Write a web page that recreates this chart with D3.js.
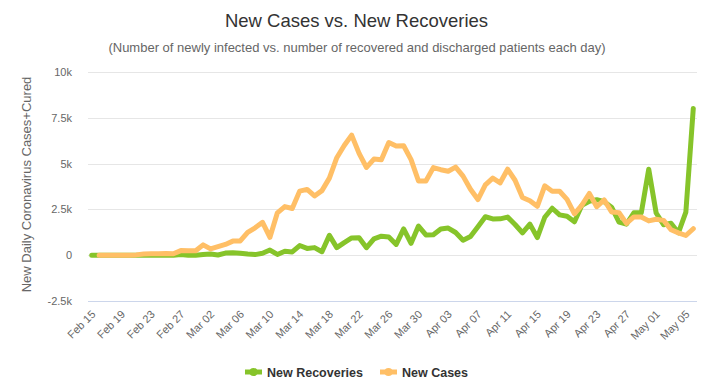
<!DOCTYPE html>
<html>
<head>
<meta charset="utf-8">
<script src="https://cdn.jsdelivr.net/npm/d3@7/dist/d3.min.js"></script>
<style>
  html, body { margin: 0; padding: 0; background: #fff; }
  svg { display: block; }
</style>
</head>
<body>
<svg id="chart" width="713" height="387"></svg>
<script>
// ---- data ----
const dates = [
  "Feb 15","Feb 16","Feb 17","Feb 18","Feb 19","Feb 20","Feb 21","Feb 22","Feb 23","Feb 24",
  "Feb 25","Feb 26","Feb 27","Feb 28","Feb 29","Mar 01","Mar 02","Mar 03","Mar 04","Mar 05",
  "Mar 06","Mar 07","Mar 08","Mar 09","Mar 10","Mar 11","Mar 12","Mar 13","Mar 14","Mar 15",
  "Mar 16","Mar 17","Mar 18","Mar 19","Mar 20","Mar 21","Mar 22","Mar 23","Mar 24","Mar 25",
  "Mar 26","Mar 27","Mar 28","Mar 29","Mar 30","Mar 31","Apr 01","Apr 02","Apr 03","Apr 04",
  "Apr 05","Apr 06","Apr 07","Apr 08","Apr 09","Apr 10","Apr 11","Apr 12","Apr 13","Apr 14",
  "Apr 15","Apr 16","Apr 17","Apr 18","Apr 19","Apr 20","Apr 21","Apr 22","Apr 23","Apr 24",
  "Apr 25","Apr 26","Apr 27","Apr 28","Apr 29","Apr 30","May 01","May 02","May 03","May 04",
  "May 05","May 06"
];
const tickLabels = ["Feb 15","Feb 19","Feb 23","Feb 27","Mar 02","Mar 06","Mar 10","Mar 14",
  "Mar 18","Mar 22","Mar 26","Mar 30","Apr 03","Apr 07","Apr 11","Apr 15","Apr 19","Apr 23",
  "Apr 27","May 01","May 05"];
const newRecoveries = [
  0,0,0,0,0,0,0,0,0,1,
  0,2,42,1,0,37,66,11,116,138,
  109,66,33,102,280,41,213,181,527,369,
  414,192,1084,415,689,943,952,408,894,1036,
  999,589,1434,646,1590,1109,1118,1431,1480,1238,
  819,1022,1555,2099,1979,1985,2079,1677,1224,1695,
  962,2072,2563,2200,2128,1822,2723,2943,3033,2922,
  2622,1808,1696,2317,2311,4693,2304,1665,1740,1225,
  2352,8014
];
const newCases = [
  null,0,0,0,0,0,17,62,73,77,
  93,78,250,238,240,566,342,466,587,769,
  778,1247,1492,1797,977,2313,2651,2547,3497,3590,
  3233,3526,4207,5322,5986,6557,5560,4789,5249,5210,
  6153,5959,5974,5217,4050,4053,4782,4668,4585,4805,
  4316,3599,3039,3836,4204,3951,4694,4092,3153,2972,
  2667,3786,3493,3491,3047,2256,2729,3370,2646,3021,
  2357,2324,1739,2091,2086,1872,1965,1900,1389,1221,
  1075,1444
];
const yTicks = [-2500, 0, 2500, 5000, 7500, 10000];
const yTickLabels = ["-2.5k", "0", "2.5k", "5k", "7.5k", "10k"];
const seriesNames = ["New Recoveries", "New Cases"];
const seriesColors = ["#86c42a", "#ffbf66"];

// ---- layout ----
const svg = d3.select("#chart");
const L = 88, R = 697, T = 72, B = 301;
const font = "'Liberation Sans', Arial, sans-serif";

const x = d3.scalePoint().domain(dates).range([L, R]).padding(0.5);
const y = d3.scaleLinear().domain([-2500, 10000]).range([B, T]);

// gridlines
svg.append("g").selectAll("line").data(yTicks).join("line")
  .attr("x1", L).attr("x2", R)
  .attr("y1", d => Math.round(y(d)) + 0.5).attr("y2", d => Math.round(y(d)) + 0.5)
  .attr("stroke", d => d === -2500 ? "#ccd6eb" : "#e6e6e6").attr("stroke-width", 1);

// y axis labels
const yAxis = d3.axisLeft(y).tickValues(yTicks).tickSize(0).tickPadding(0)
  .tickFormat((d, i) => yTickLabels[i]);
const gy = svg.append("g").attr("transform", `translate(72,0)`).call(yAxis);
gy.select(".domain").remove();
gy.selectAll("text").attr("fill", "#666").style("font-family", font).style("font-size", "11px")
  .attr("dy", "0.32em");

// x axis labels
const xAxis = d3.axisBottom(x).tickValues(tickLabels).tickSize(0).tickPadding(0);
const gx = svg.append("g").attr("transform", `translate(0,${B})`).call(xAxis);
gx.select(".domain").remove();
gx.selectAll(".tick text")
  .attr("fill", "#666").style("font-family", font).style("font-size", "11px")
  .attr("text-anchor", "end").attr("dy", null).attr("y", 0)
  .attr("transform", "translate(4,14) rotate(-45)");

// lines
const line = d3.line()
  .defined(d => d[1] !== null)
  .x(d => x(d[0])).y(d => y(d[1]));
const series = [newRecoveries, newCases];
series.forEach((vals, si) => {
  svg.append("path")
    .datum(dates.map((dt, i) => [dt, vals[i]]))
    .attr("fill", "none").attr("stroke", seriesColors[si]).attr("stroke-width", 5)
    .attr("stroke-linejoin", "round").attr("stroke-linecap", "round")
    .attr("d", line);
});

// title
svg.append("text").attr("x", 356.5).attr("y", 27).attr("text-anchor", "middle")
  .attr("fill", "#333").style("font-family", font).style("font-size", "18.5px")
  .text("New Cases vs. New Recoveries");
svg.append("text").attr("x", 357).attr("y", 52).attr("text-anchor", "middle")
  .attr("fill", "#666").style("font-family", font).style("font-size", "13px")
  .text("(Number of newly infected vs. number of recovered and discharged patients each day)");

// y axis title
svg.append("text").attr("transform", `translate(31,${(T + B) / 2 - 2}) rotate(-90)`)
  .attr("text-anchor", "middle").attr("fill", "#666")
  .style("font-family", font).style("font-size", "13px")
  .text("New Daily Coronavirus Cases+Cured");

// legend
const legendX = [245, 380];
seriesNames.forEach((name, i) => {
  const g = svg.append("g").attr("transform", `translate(${legendX[i]},372)`);
  g.append("line").attr("x1", 0).attr("x2", 17).attr("y1", 0).attr("y2", 0)
    .attr("stroke", seriesColors[i]).attr("stroke-width", 5);
  g.append("circle").attr("cx", 8.5).attr("cy", 0).attr("r", 4).attr("fill", seriesColors[i]);
  g.append("text").attr("x", 22).attr("y", 4.5).attr("fill", "#333")
    .style("font-family", font).style("font-size", "12.5px").style("font-weight", "bold")
    .text(name);
});
</script>
</body>
</html>
